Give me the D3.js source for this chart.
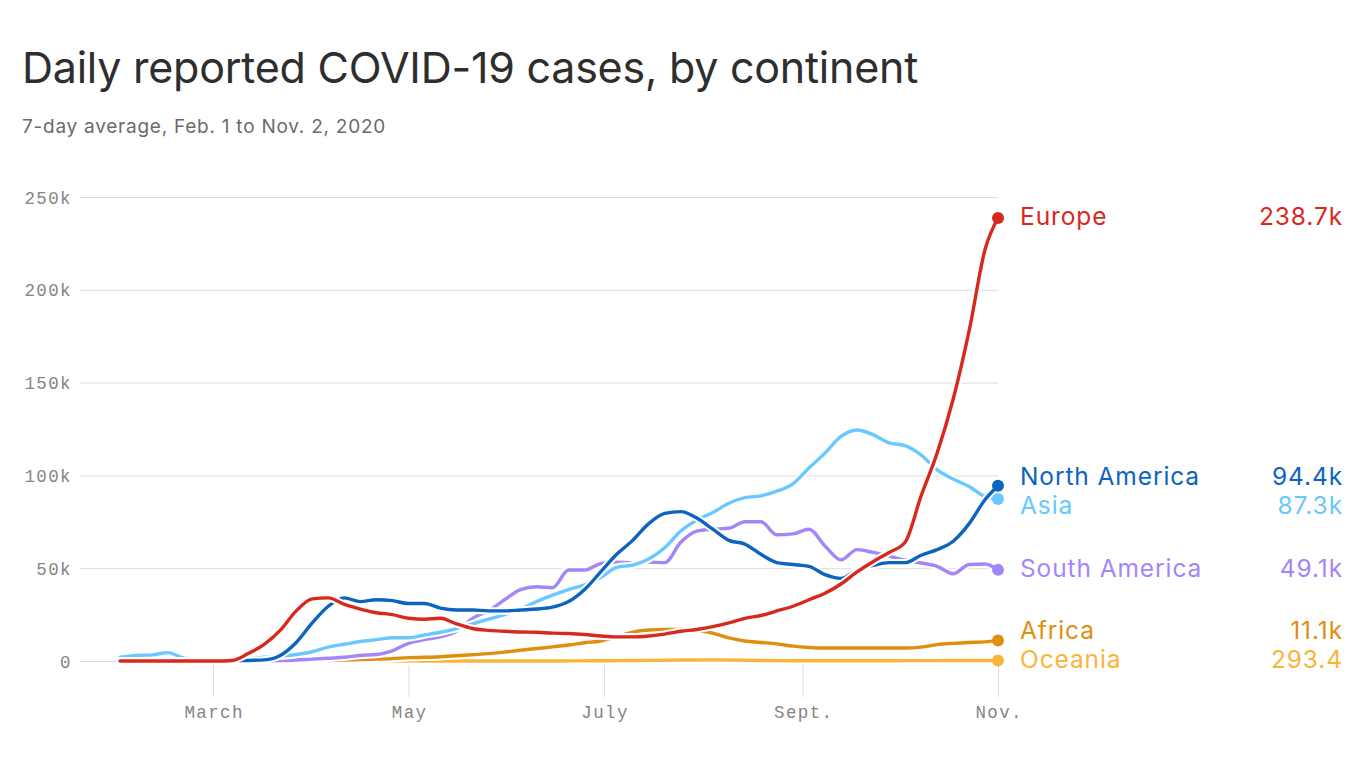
<!DOCTYPE html>
<html>
<head>
<meta charset="utf-8">
<script src="https://cdn.jsdelivr.net/npm/d3@7"></script>
<style>
  html, body { margin: 0; padding: 0; background: #fff; }
  svg { display: block; }
</style>
</head>
<body>
<svg id="chart" width="1366" height="768"></svg>
<script>
// ---------------- DATA (values in thousands of daily cases, 7-day avg) ----------------
const dates = [
  "2020-02-01","2020-02-06","2020-02-11","2020-02-16","2020-02-21","2020-02-26","2020-03-02","2020-03-07","2020-03-12","2020-03-17",
  "2020-03-22","2020-03-27","2020-04-01","2020-04-06","2020-04-11","2020-04-16","2020-04-21","2020-04-26","2020-05-01","2020-05-06",
  "2020-05-11","2020-05-16","2020-05-21","2020-05-26","2020-05-31","2020-06-05","2020-06-10","2020-06-15","2020-06-20","2020-06-25",
  "2020-06-30","2020-07-05","2020-07-10","2020-07-15","2020-07-20","2020-07-25","2020-07-30","2020-08-04","2020-08-09","2020-08-14",
  "2020-08-19","2020-08-24","2020-08-29","2020-09-03","2020-09-08","2020-09-13","2020-09-18","2020-09-23","2020-09-28","2020-10-03",
  "2020-10-08","2020-10-13","2020-10-18","2020-10-23","2020-10-28","2020-11-01"
];

const europe = [0,0,0,0,0,0,0,0.3,4,9,
  16.5,27,33.5,34,30.5,28,26,25,23,22.5,
  23,20,17.5,16.5,16,15.6,15.5,15,14.8,14.3,
  13.5,13,13,13.5,14.5,16,17,18.5,20.5,23,
  24.5,27,29.5,33,36.5,41.5,48,53.5,58.5,64,
  89,112,141,178,222,238.7];

const northAmerica = [0,0,0,0,0,0,0,0,0.3,0.6,
  3,10,20.5,29.5,34,32,33,32.5,31,31,
  28.5,27.5,27.5,27,27,27.5,28,29,32,38.5,
  48,57.5,65,74,79.5,80.5,77,71,65,63,
  57.5,53,52,51,46.5,44.5,49,51.5,53,53,
  57,60,64.5,74,87,94.4];

const asia = [2,3,3.3,4.5,1.5,0.8,0.6,0.7,1,2,
  2.5,3.5,5,7.5,9,10.5,11.5,12.5,12.5,14,
  15.5,17.5,20,22.5,25,28,32,35.5,38.5,41,
  45,50.5,51.7,55,61,70,76,80,85,88,
  89,91.5,95.5,104,112,121,124.5,122,117.5,116,
  111,103,98,94,88.5,87.3];

const southAmerica = [null,null,null,null,null,null,null,null,null,0,
  0.2,0.5,1,1.5,2,3,3.5,5.5,9.5,11.5,
  13,16,23,27,33,38.5,40,39.5,49,49,
  52.5,53.3,53,53.3,53,64,70,71,71.5,75,
  75,68,68.5,71,62,54.5,60,58.5,56.5,54.3,
  52.8,51,47,52,52.3,49.1];

const africa = [null,null,null,null,null,null,null,null,null,null,
  null,null,null,0.3,0.5,0.8,1,1.3,1.8,2,
  2.3,2.8,3.4,4,4.8,5.8,6.7,7.6,8.6,9.8,
  10.8,13,15.6,16.7,17,17,16.5,15,12.5,10.8,
  10,9.2,8,7.3,7,7,7,7,7,7,
  7.5,8.8,9.5,10,10.3,11.1];

const oceania = [null,null,null,null,null,null,null,null,null,null,
  null,null,null,0.3,0.35,0.25,0.12,0.05,0.03,0.02,
  0.02,0.02,0.02,0.02,0.02,0.02,0.02,0.03,0.05,0.08,
  0.12,0.2,0.28,0.35,0.42,0.5,0.55,0.6,0.5,0.4,
  0.3,0.22,0.15,0.12,0.1,0.1,0.12,0.15,0.15,0.18,
  0.2,0.22,0.25,0.27,0.28,0.2934];

// drawing order: bottom -> top
const seriesNames  = ["Oceania","Africa","South America","Asia","North America","Europe"];
const seriesValues = [oceania, africa, southAmerica, asia, northAmerica, europe];
const seriesColors = ["#fbb43a","#df8e0e","#a386f8","#68c8ff","#0c64bf","#d8291d"];

const yTicks = [0,50,100,150,200,250];
const xTickDates  = ["2020-03-01","2020-05-01","2020-07-01","2020-09-01","2020-11-01"];
const xTickLabels = ["March","May","July","Sept.","Nov."];

const titleText = "Daily reported COVID-19 cases, by continent";
const subtitleText = "7-day average, Feb. 1 to Nov. 2, 2020";

// ---------------- CHART ----------------
const parse = d3.timeParse("%Y-%m-%d");
const svg = d3.select("#chart");
const FONT = "Inter, 'Noto Sans', sans-serif";
const MONO = "'Liberation Mono', 'DejaVu Sans Mono', monospace";

function fitText(sel, target) {
  const node = sel.node();
  const w = node.getComputedTextLength();
  const n = sel.text().length;
  sel.attr("letter-spacing", ((target - w) / n).toFixed(3));
}

const title = svg.append("text").attr("x", 22).attr("y", 83)
  .attr("font-family", FONT).attr("font-size", 43).attr("fill", "#2e2e2e")
  .text(titleText);
fitText(title, 896);

const sub = svg.append("text").attr("x", 22).attr("y", 133)
  .attr("font-family", FONT).attr("font-size", 19).attr("fill", "#6b6b6b")
  .text(subtitleText);
fitText(sub, 364);

const x = d3.scaleTime().domain([parse("2020-02-01"), parse("2020-11-01")]).range([120, 998]);
const y = d3.scaleLinear().domain([0, 250]).range([661, 197]);

// Y axis with gridlines
const yAxis = d3.axisLeft(y).tickValues(yTicks).tickSize(-918).tickPadding(8)
  .tickFormat(d => d === 0 ? "0" : d + "k");
const gy = svg.append("g").attr("transform", "translate(80,0)").call(yAxis);
gy.select(".domain").remove();
gy.selectAll(".tick line").attr("stroke", "#dcdcdc").attr("stroke-width", 1);
gy.selectAll(".tick text").attr("font-family", MONO).attr("font-size", 17.5)
  .attr("fill", "#858585").attr("letter-spacing", 1.4).attr("dy", "0.35em");

// X axis
const xAxis = d3.axisBottom(x).tickValues(xTickDates.map(parse)).tickSize(32).tickPadding(9)
  .tickFormat((d, i) => xTickLabels[i]);
const gx = svg.append("g").attr("transform", "translate(0,665)").call(xAxis);
gx.select(".domain").remove();
gx.selectAll(".tick line").attr("stroke", "#dcdcdc").attr("stroke-width", 1);
gx.selectAll(".tick text").attr("font-family", MONO).attr("font-size", 17.5)
  .attr("fill", "#858585").attr("letter-spacing", 1.4).attr("dx", "0.7");

// Lines
const line = d3.line()
  .defined(d => d.v !== null)
  .x(d => x(d.date)).y(d => y(d.v))
  .curve(d3.curveMonotoneX);

const gLines = svg.append("g");
seriesNames.forEach((name, i) => {
  const data = dates.map((ds, j) => ({ date: parse(ds), v: seriesValues[i][j] }));
  const g = gLines.append("g");
  g.append("path").datum(data).attr("d", line)
    .attr("fill", "none").attr("stroke", "#fff").attr("stroke-width", 7.5)
    .attr("stroke-linejoin", "round").attr("stroke-linecap", "round");
  g.append("path").datum(data).attr("d", line)
    .attr("fill", "none").attr("stroke", seriesColors[i]).attr("stroke-width", 3.4)
    .attr("stroke-linejoin", "round").attr("stroke-linecap", "round");
});

// End dots
const lastDate = parse(dates[dates.length - 1]);
const ends = seriesNames.map((name, i) => {
  const v = seriesValues[i][seriesValues[i].length - 1];
  return { name, v, color: seriesColors[i], cy: y(v) };
});
svg.append("g").selectAll("circle").data(ends).join("circle")
  .attr("cx", x(lastDate)).attr("cy", d => d.cy).attr("r", 6)
  .attr("fill", d => d.color);

// Label placement with collision avoidance
const labels = ends.map(d => ({ ...d, ly: d.cy })).sort((a, b) => a.ly - b.ly);
const gap = 29, maxY = y(0);
for (let it = 0; it < 200; it++) {
  let moved = false;
  for (let k = 1; k < labels.length; k++) {
    const a = labels[k - 1], b = labels[k];
    const ov = gap - (b.ly - a.ly);
    if (ov > 0.01) { a.ly -= ov / 2; b.ly += ov / 2; moved = true; }
  }
  labels.forEach(l => { if (l.ly > maxY) { l.ly = maxY; } });
  if (!moved) break;
}
const fmt = v => v >= 1 ? v.toFixed(1) + "k" : (v * 1000).toFixed(1);
const gLab = svg.append("g");
labels.forEach(l => {
  gLab.append("text").attr("x", 1020).attr("y", l.ly - 2).attr("dy", "0.36em")
    .attr("font-family", FONT).attr("font-size", 24.5).attr("letter-spacing", 0.9)
    .attr("fill", l.color).text(l.name);
  gLab.append("text").attr("x", 1343).attr("y", l.ly - 2).attr("dy", "0.36em")
    .attr("text-anchor", "end")
    .attr("font-family", FONT).attr("font-size", 24.5).attr("letter-spacing", 0.9)
    .attr("fill", l.color).text(fmt(l.v));
});
</script>
</body>
</html>
